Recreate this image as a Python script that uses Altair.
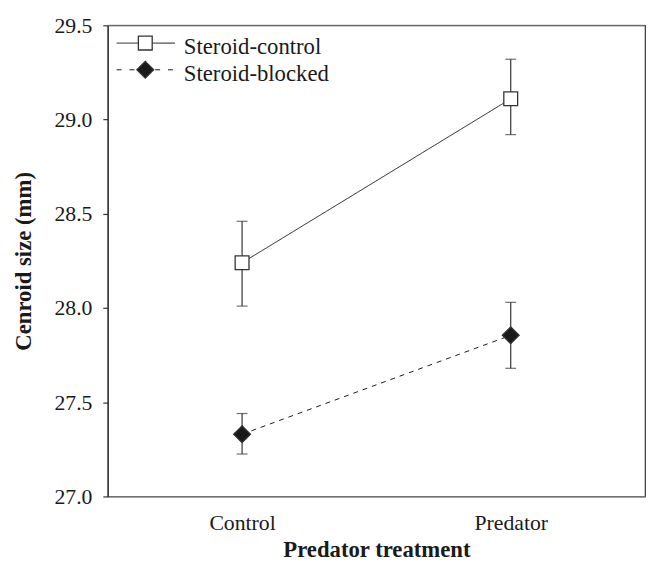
import altair as alt
import pandas as pd

treatment = ["Control", "Predator"]
series = ["Steroid-control", "Steroid-blocked"]

control_mean = [28.24, 29.11]
control_upper = [28.46, 29.32]
control_lower = [28.01, 28.92]

blocked_mean = [27.33, 27.855]
blocked_upper = [27.44, 28.03]
blocked_lower = [27.225, 27.68]

y_ticks = [27.0, 27.5, 28.0, 28.5, 29.0, 29.5]

FONT = "'Liberation Serif', 'Times New Roman', Times, serif"
INK = "#1a1a1a"

ctrl = pd.DataFrame({"treatment": treatment, "mean": control_mean,
                     "upper": control_upper, "lower": control_lower})
blk = pd.DataFrame({"treatment": treatment, "mean": blocked_mean,
                    "upper": blocked_upper, "lower": blocked_lower})

x = alt.X("treatment:N", scale=alt.Scale(type="point", domain=treatment, padding=0.5),
          axis=alt.Axis(title="Predator treatment", ticks=False, labelPadding=16,
                        labelAngle=0, domainColor="#777777",
                        labelFont=FONT, labelFontSize=22, titleFont=FONT,
                        titlePadding=6, titleFontSize=23, titleFontWeight="bold"))
y = alt.Y("mean:Q", scale=alt.Scale(domain=[27.0, 29.5], nice=False, zero=False),
          axis=alt.Axis(title="Cenroid size (mm)", values=y_ticks, format=".1f",
                        labelFont=FONT, labelFontSize=22, titleFont=FONT,
                        tickSize=5, labelPadding=11, titlePadding=19,
                        titleFontSize=23, titleFontWeight="bold", grid=False))

def group(df, dash, shape, fill, size):
    base = alt.Chart(df)
    line = base.mark_line(color=INK, strokeWidth=1, strokeDash=dash).encode(x=x, y=y)
    bar = base.mark_rule(color="#333333", strokeWidth=1.2).encode(
        x="treatment:N", y="lower:Q", y2="upper:Q")
    cap_u = base.mark_tick(color="#333333", thickness=1.2, size=11).encode(
        x="treatment:N", y="upper:Q")
    cap_l = base.mark_tick(color="#333333", thickness=1.2, size=11).encode(
        x="treatment:N", y="lower:Q")
    pts = base.mark_point(shape=shape, filled=False, fill=fill, fillOpacity=1,
                          stroke="#333333", strokeWidth=1.3, size=size, opacity=1).encode(
        x="treatment:N", y="mean:Q")
    return [line, bar, cap_u, cap_l, pts]

layers = []
layers += group(ctrl, [1, 0], "square", "white", 196)
layers += group(blk, [5, 5], "diamond", INK, 289)

one = alt.Data(values=[{"a": 1}])
# top border
layers.append(alt.Chart(one).mark_rule(color="#777777", strokeWidth=1).encode(
    x=alt.value(0), x2=alt.value(544), y=alt.value(0)))

# legend
leg = [(series[0], [1, 0], "square", "white", 196, 18, 29),
       (series[1], [5, 8], "diamond", INK, 289, 45, 56)]
for name, dash, shape, fill, size, ly, ty in leg:
    layers.append(alt.Chart(one).mark_rule(color=INK, strokeWidth=1, strokeDash=dash).encode(
        x=alt.value(9), x2=alt.value(68), y=alt.value(ly)))
    layers.append(alt.Chart(one).mark_point(shape=shape, filled=False, fill=fill, fillOpacity=1,
                                           stroke="#333333", strokeWidth=1.3, size=size,
                                           opacity=1).encode(
        x=alt.value(38), y=alt.value(ly)))
    layers.append(alt.Chart(alt.Data(values=[{"label": name}])).mark_text(
        align="left", baseline="alphabetic", font=FONT, fontSize=23, color=INK).encode(
        x=alt.value(77), y=alt.value(ty), text="label:N"))

chart = alt.layer(*layers).properties(
    width=544, height=477,
    padding={"left": 101, "top": 14, "right": 4, "bottom": 76},
    autosize=alt.AutoSizeParams(type="none"),
    background="white",
).configure_view(stroke="#333333", strokeWidth=1.2).configure_axis(
    labelColor=INK, titleColor=INK,
    domainColor="#333333", tickColor="#333333", domainWidth=1.2, tickWidth=1.2,
)

chart.save("out.html", embed_options={"renderer": "svg", "actions": False})
